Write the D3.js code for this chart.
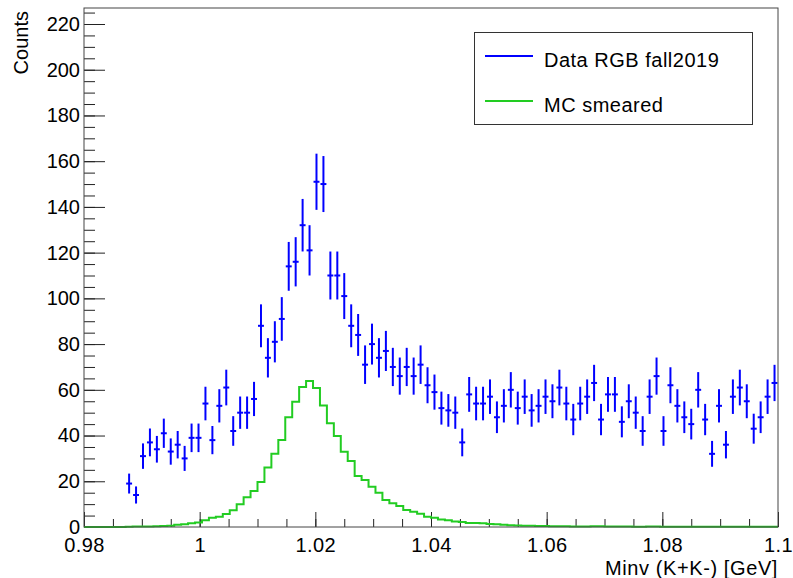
<!DOCTYPE html>
<html>
<head>
<meta charset="utf-8">
<script src="https://cdn.jsdelivr.net/npm/d3@7"></script>
<style>
  html, body { margin: 0; padding: 0; background: #fff; }
  svg { display: block; font-family: "Liberation Sans", Arial, Helvetica, sans-serif; }
  .axis text { font-size: 20px; fill: #000; }
  .axis path { display: none; }
  .axis line { stroke: #222; stroke-width: 1; }
</style>
</head>
<body>
<svg id="chart" width="793" height="578"></svg>
<script>
// K+K- invariant mass: data vs smeared MC, 100 bins from 0.98 to 1.1 GeV

const X_MIN = 0.98;
const X_MAX = 1.1;
const N_BINS = 100;

// data counts per bin (bins 0..99)
const dataCounts = [
  0, 0, 0, 0, 0, 0, 19, 14, 31, 37,
  34, 41, 33, 36, 30, 39, 39, 54, 38, 53,
  61, 42, 50, 50, 56, 88, 74, 81, 91, 114,
  116, 132, 121, 151, 150, 110, 110, 101, 88, 84,
  71, 80, 74, 77, 70, 66, 70, 66, 71, 62,
  59, 52, 51, 50, 37, 58, 54, 54, 57, 48,
  53, 60, 52, 57, 51, 53, 57, 55, 61, 54,
  47, 54, 57, 63, 47, 58, 58, 46, 55, 50,
  42, 57, 66, 42, 62, 53, 48, 45, 60, 47,
  32, 53, 36, 57, 61, 55, 43, 48, 57, 63
];

// MC smeared (scaled) per bin
const mcCounts = [
  0, 0, 0, 0, 0, 0, 0.1, 0.2, 0.2, 0.2,
  0.3, 0.4, 0.6, 1.0, 1.2, 1.6, 2.0, 3.0, 4.0, 4.5,
  5.7, 7.3, 10, 13, 15.7, 19.7, 26, 32, 38, 48,
  54.8, 61.2, 63.9, 60.8, 53.1, 45.4, 39.8, 32.9, 28.9, 22.3,
  20.6, 17.6, 15, 11.8, 10.4, 9.2, 7.4, 6.7, 5.8, 4.5,
  4.1, 3.3, 3.0, 2.4, 2.2, 1.8, 1.7, 1.6, 1.3, 1.2,
  1.0, 0.8, 0.7, 0.6, 0.5, 0.4, 0.4, 0.3, 0.3, 0.3,
  0.2, 0.2, 0.2, 0.3, 0.3, 0.2, 0.2, 0.2, 0.2, 0.1,
  0.1, 0.2, 0.2, 0.1, 0.1, 0.1, 0.1, 0.1, 0.1, 0.1,
  0.1, 0.1, 0.1, 0.1, 0.1, 0.1, 0.1, 0.1, 0.1, 0.1
];

const xTickValues = [0.98, 1.0, 1.02, 1.04, 1.06, 1.08, 1.1];
const yTickValues = [0, 20, 40, 60, 80, 100, 120, 140, 160, 180, 200, 220];
const legendLabels = ['Data RGB fall2019', 'MC smeared'];

const DATA_COLOR = '#0000ff';
const MC_COLOR = '#22cc22';

const frame = { left: 84, right: 778, top: 8, bottom: 527 };

const svg = d3.select('#chart');

const x = d3.scaleLinear().domain([X_MIN, X_MAX]).range([frame.left, frame.right]);
const y = d3.scaleLinear().domain([0, 227]).range([frame.bottom, frame.top]);

const binWidth = (X_MAX - X_MIN) / N_BINS;
const binLow = i => X_MIN + i * binWidth;

// axes (ticks pointing inward, ROOT style)
const xMajor = d3.axisBottom(x)
  .tickValues(xTickValues)
  .tickSizeInner(-15).tickSizeOuter(0).tickPadding(11)
  .tickFormat(d => String(+d.toFixed(2)));
const xMinor = d3.axisBottom(x)
  .tickValues(x.ticks(24))
  .tickSizeInner(-8).tickSizeOuter(0).tickFormat('');

svg.append('g').attr('class', 'axis')
  .attr('transform', `translate(0,${frame.bottom})`).call(xMinor);
svg.append('g').attr('class', 'axis')
  .attr('transform', `translate(0,${frame.bottom})`).call(xMajor)
  .selectAll('text').style('letter-spacing', '0.4px');

const yMajor = d3.axisLeft(y)
  .tickValues(yTickValues)
  .tickSizeInner(-21).tickSizeOuter(0).tickPadding(4);
const yMinor = d3.axisLeft(y)
  .tickValues(d3.range(0, 228, 5))
  .tickSizeInner(-11).tickSizeOuter(0).tickFormat('');

svg.append('g').attr('class', 'axis')
  .attr('transform', `translate(${frame.left},0)`).call(yMinor);
svg.append('g').attr('class', 'axis')
  .attr('transform', `translate(${frame.left},0)`).call(yMajor);

// MC step histogram
const mcPoints = mcCounts.map((v, i) => [binLow(i), v]);
mcPoints.push([X_MAX, mcCounts[N_BINS - 1]]);

svg.append('path')
  .datum(mcPoints)
  .attr('fill', 'none')
  .attr('stroke', MC_COLOR)
  .attr('stroke-width', 2)
  .attr('d', d3.line()
    .x(d => x(d[0]))
    .y(d => y(d[1]))
    .curve(d3.curveStepAfter));

// data points with sqrt(N) errors
const dataBins = dataCounts
  .map((v, i) => ({ i, v }))
  .filter(d => d.v > 0);

const pts = svg.append('g')
  .attr('stroke', DATA_COLOR)
  .attr('stroke-width', 2);

pts.selectAll('line.err')
  .data(dataBins)
  .join('line')
  .attr('class', 'err')
  .attr('x1', d => x(binLow(d.i) + binWidth / 2))
  .attr('x2', d => x(binLow(d.i) + binWidth / 2))
  .attr('y1', d => y(d.v - Math.sqrt(d.v)))
  .attr('y2', d => y(d.v + Math.sqrt(d.v)));

pts.selectAll('line.bin')
  .data(dataBins)
  .join('line')
  .attr('class', 'bin')
  .attr('x1', d => x(binLow(d.i)) + 0.5)
  .attr('x2', d => x(binLow(d.i + 1)) - 0.5)
  .attr('y1', d => y(d.v))
  .attr('y2', d => y(d.v));

// frame
svg.append('rect')
  .attr('x', frame.left)
  .attr('y', frame.top)
  .attr('width', frame.right - frame.left)
  .attr('height', frame.bottom - frame.top)
  .attr('fill', 'none')
  .attr('stroke', '#444')
  .attr('stroke-width', 1);

// axis titles
svg.append('text')
  .attr('x', frame.right)
  .attr('y', 575)
  .attr('text-anchor', 'end')
  .style('font-size', '20px')
  .style('letter-spacing', '0.6px')
  .text('Minv (K+K-) [GeV]');

svg.append('text')
  .attr('transform', 'translate(28,11) rotate(-90)')
  .attr('text-anchor', 'end')
  .style('font-size', '20px')
  .text('Counts');

// legend
const legend = svg.append('g');
legend.append('rect')
  .attr('x', 474.5).attr('y', 32.5)
  .attr('width', 278).attr('height', 92)
  .attr('fill', '#fff')
  .attr('stroke', '#333')
  .attr('stroke-width', 1);

const legendColors = [DATA_COLOR, MC_COLOR];
const legendY = [56, 101];

legend.selectAll('line')
  .data(legendLabels)
  .join('line')
  .attr('x1', 485).attr('x2', 533)
  .attr('y1', (d, i) => legendY[i])
  .attr('y2', (d, i) => legendY[i])
  .attr('stroke', (d, i) => legendColors[i])
  .attr('stroke-width', 2);

legend.selectAll('text')
  .data(legendLabels)
  .join('text')
  .attr('x', 544)
  .attr('y', (d, i) => legendY[i] + 11)
  .style('font-size', '20px')
  .style('letter-spacing', '0.5px')
  .text(d => d);
</script>
</body>
</html>
